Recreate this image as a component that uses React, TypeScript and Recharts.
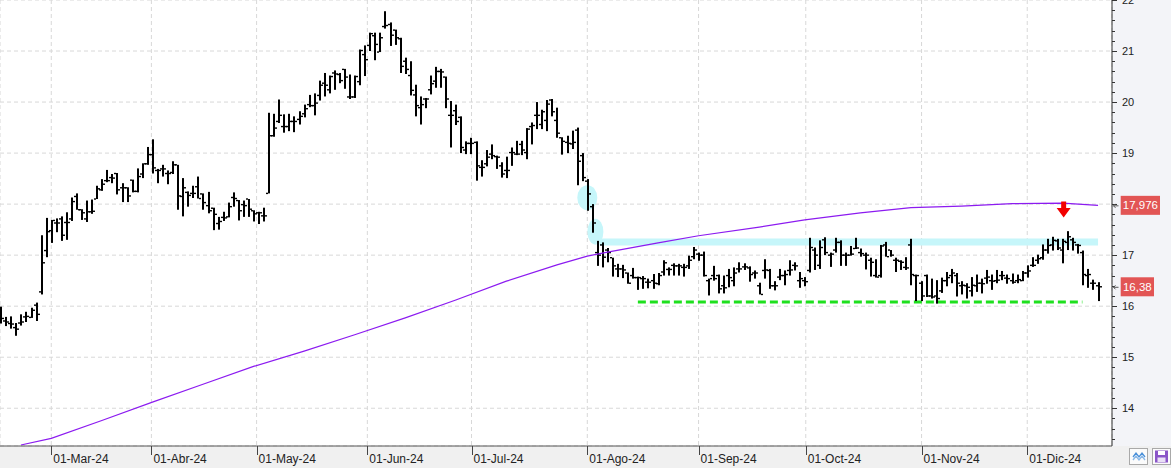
import React from 'react';
import {
  ComposedChart,
  Bar,
  Line,
  XAxis,
  YAxis,
  CartesianGrid,
  ReferenceLine,
  ReferenceDot,
} from 'recharts';

// ---- Daily OHLC bars (Feb-15-2024 .. Dec-20-2024) ----
const opens = [
  15.77, 15.71, 15.66, 15.58, 15.67, 15.79, 15.78, 16.02, 16.28, 17.09,
  17.48, 17.63, 17.71, 17.64, 17.71, 18.15, 17.89, 17.71, 17.85, 18.10,
  18.28, 18.46, 18.52, 18.60, 18.32, 18.32, 18.47, 18.25, 18.59, 18.79,
  18.97, 18.66, 18.69, 18.60, 18.62, 18.77, 18.15, 18.23, 18.21, 18.34,
  18.20, 17.97, 17.92, 17.62, 17.74, 17.75, 18.13, 18.07, 17.99, 18.10,
  17.87, 17.83, 17.77, 18.21, 19.34, 19.62, 19.52, 19.52, 19.62, 19.66,
  19.77, 19.95, 19.93, 20.13, 20.37, 20.24, 20.57, 20.54, 20.64, 20.10,
  20.10, 20.40, 20.93, 21.11, 21.30, 20.98, 21.48, 21.52, 21.41, 21.24,
  20.80, 20.52, 20.14, 19.89, 20.06, 20.24, 20.41, 20.60, 20.49, 19.74,
  19.83, 19.70, 19.06, 19.19, 19.21, 18.72, 18.79, 18.98, 18.93, 18.75,
  18.66, 19.01, 18.98, 19.17, 19.01, 19.52, 19.74, 19.56, 19.64, 20.04,
  19.64, 19.30, 19.21, 19.18, 19.45, 18.95, 18.45, 17.95, 17.05, 17.20,
  17.10, 16.95, 16.73, 16.73, 16.65, 16.60, 16.56, 16.54, 16.47, 16.50,
  16.44, 16.67, 16.72, 16.80, 16.79, 16.76, 16.79, 16.97, 17.02, 17.00,
  16.50, 16.60, 16.60, 16.40, 16.60, 16.50, 16.73, 16.77, 16.75, 16.65,
  16.40, 16.70, 16.70, 16.40, 16.57, 16.60, 16.70, 16.80, 16.50, 16.50,
  16.70, 17.10, 16.80, 17.30, 17.00, 17.10, 17.25, 17.00, 17.00, 17.13,
  17.05, 17.00, 16.90, 16.60, 16.60, 17.20, 17.10, 16.90, 16.88, 16.76,
  17.20, 16.60, 16.45, 16.60, 16.20, 16.20, 16.30, 16.50, 16.60, 16.60,
  16.40, 16.40, 16.30, 16.40, 16.45, 16.55, 16.50, 16.50, 16.60, 16.55,
  16.50, 16.50, 16.50, 16.65, 16.80, 16.90, 16.95, 17.10, 17.20, 17.28,
  17.10, 17.25, 17.30, 17.20, 17.05, 16.60, 16.45, 16.40,
];
const highs = [
  15.99, 15.79, 15.80, 15.67, 15.84, 15.89, 15.97, 16.07, 17.39, 17.73,
  17.69, 17.72, 17.76, 17.84, 18.13, 18.21, 17.90, 18.07, 18.09, 18.36,
  18.49, 18.67, 18.59, 18.61, 18.41, 18.33, 18.48, 18.70, 18.80, 19.12,
  19.27, 18.69, 18.77, 18.66, 18.84, 18.77, 18.51, 18.25, 18.36, 18.54,
  18.21, 18.24, 17.93, 17.75, 17.85, 18.03, 18.23, 18.08, 18.07, 18.10,
  17.88, 17.85, 17.93, 19.79, 19.77, 20.05, 19.76, 19.77, 19.72, 19.82,
  19.95, 20.14, 20.17, 20.42, 20.57, 20.52, 20.62, 20.57, 20.65, 20.54,
  20.52, 21.03, 21.11, 21.36, 21.36, 21.36, 21.78, 21.56, 21.42, 21.26,
  20.87, 20.80, 20.34, 20.11, 20.08, 20.52, 20.69, 20.65, 20.50, 20.02,
  19.95, 19.72, 19.23, 19.30, 19.23, 18.86, 19.06, 19.17, 18.95, 18.82,
  18.93, 19.11, 19.24, 19.24, 19.49, 19.60, 20.00, 19.85, 20.04, 20.06,
  19.89, 19.31, 19.34, 19.44, 19.50, 19.00, 18.49, 18.00, 17.28, 17.25,
  17.14, 16.95, 16.83, 16.81, 16.66, 16.75, 16.58, 16.59, 16.54, 16.63,
  16.65, 16.90, 16.76, 16.84, 16.83, 16.83, 16.99, 17.16, 17.05, 17.07,
  16.54, 16.79, 16.62, 16.60, 16.73, 16.76, 16.86, 16.84, 16.78, 16.70,
  16.46, 16.92, 16.73, 16.49, 16.73, 16.70, 16.90, 16.86, 16.67, 16.57,
  17.34, 17.15, 17.29, 17.35, 17.05, 17.34, 17.29, 17.05, 17.18, 17.34,
  17.13, 17.05, 16.95, 16.92, 17.20, 17.26, 17.10, 16.95, 16.90, 16.96,
  17.32, 16.62, 16.49, 16.62, 16.54, 16.51, 16.56, 16.67, 16.73, 16.65,
  16.49, 16.45, 16.57, 16.62, 16.54, 16.71, 16.62, 16.71, 16.69, 16.62,
  16.64, 16.62, 16.69, 16.80, 16.96, 17.01, 17.21, 17.32, 17.36, 17.32,
  17.32, 17.47, 17.34, 17.22, 17.09, 16.73, 16.52, 16.47,
];
const lows = [
  15.66, 15.61, 15.56, 15.42, 15.62, 15.69, 15.77, 15.71, 16.23, 16.96,
  17.24, 17.45, 17.28, 17.30, 17.67, 17.89, 17.69, 17.65, 17.81, 18.10,
  18.26, 18.43, 18.41, 18.19, 18.04, 18.04, 18.23, 18.23, 18.51, 18.77,
  18.60, 18.41, 18.54, 18.39, 18.59, 17.89, 17.76, 17.95, 18.12, 18.11,
  17.89, 17.82, 17.49, 17.50, 17.67, 17.74, 17.95, 17.68, 17.75, 17.75,
  17.66, 17.61, 17.66, 18.21, 19.32, 19.59, 19.40, 19.43, 19.41, 19.56,
  19.70, 19.90, 19.74, 20.03, 20.11, 20.17, 20.24, 20.37, 20.26, 20.06,
  20.08, 20.33, 20.51, 21.00, 20.82, 20.98, 21.44, 21.10, 21.12, 20.57,
  20.55, 20.13, 19.72, 19.56, 19.88, 20.15, 20.28, 20.28, 19.88, 19.11,
  19.55, 19.00, 18.98, 18.98, 18.46, 18.54, 18.74, 18.88, 18.69, 18.52,
  18.51, 18.75, 18.96, 18.96, 18.88, 19.17, 19.47, 19.47, 19.43, 19.72,
  19.30, 18.97, 19.00, 19.08, 18.37, 18.45, 17.87, 17.44, 16.79, 16.76,
  16.86, 16.58, 16.57, 16.55, 16.44, 16.54, 16.32, 16.34, 16.35, 16.34,
  16.41, 16.60, 16.60, 16.60, 16.60, 16.58, 16.73, 16.92, 16.89, 16.58,
  16.21, 16.50, 16.25, 16.25, 16.37, 16.39, 16.66, 16.71, 16.48, 16.54,
  16.23, 16.54, 16.34, 16.31, 16.51, 16.41, 16.60, 16.70, 16.36, 16.39,
  16.66, 16.71, 16.73, 17.00, 16.77, 17.05, 16.79, 16.79, 16.99, 17.12,
  16.97, 16.72, 16.58, 16.56, 16.56, 16.97, 16.97, 16.67, 16.71, 16.71,
  16.41, 16.10, 16.10, 16.18, 16.15, 16.05, 16.26, 16.39, 16.45, 16.19,
  16.23, 16.15, 16.19, 16.28, 16.25, 16.44, 16.32, 16.45, 16.51, 16.44,
  16.44, 16.45, 16.49, 16.56, 16.77, 16.83, 16.91, 17.03, 17.09, 17.10,
  16.84, 17.10, 17.09, 17.03, 16.41, 16.36, 16.32, 16.10,
];
const closes = [
  15.76, 15.69, 15.65, 15.55, 15.69, 15.80, 15.92, 15.84, 16.85, 17.46,
  17.68, 17.63, 17.39, 17.64, 18.05, 17.89, 17.83, 17.85, 17.86, 18.30,
  18.39, 18.46, 18.51, 18.28, 18.32, 18.16, 18.25, 18.54, 18.79, 18.97,
  18.71, 18.66, 18.69, 18.60, 18.77, 18.16, 18.32, 18.17, 18.21, 18.11,
  18.03, 17.87, 17.80, 17.66, 17.73, 17.95, 18.11, 17.87, 17.97, 17.90,
  17.81, 17.83, 17.77, 19.34, 19.49, 19.74, 19.52, 19.62, 19.62, 19.72,
  19.87, 19.93, 19.98, 20.33, 20.33, 20.50, 20.55, 20.42, 20.49, 20.10,
  20.50, 21.01, 20.83, 21.34, 21.13, 21.26, 21.50, 21.31, 21.26, 20.70,
  20.64, 20.23, 19.93, 19.95, 20.06, 20.36, 20.60, 20.59, 20.06, 19.74,
  19.62, 19.11, 19.19, 19.19, 18.75, 18.72, 18.92, 18.95, 18.92, 18.59,
  18.66, 19.01, 18.98, 19.06, 19.47, 19.54, 19.74, 19.81, 19.96, 19.81,
  19.39, 19.23, 19.19, 19.21, 18.84, 18.52, 18.20, 17.63, 17.00, 16.96,
  17.05, 16.79, 16.73, 16.71, 16.45, 16.56, 16.56, 16.54, 16.47, 16.45,
  16.60, 16.85, 16.72, 16.79, 16.79, 16.76, 16.90, 17.10, 17.00, 16.60,
  16.54, 16.54, 16.34, 16.36, 16.56, 16.65, 16.73, 16.77, 16.62, 16.65,
  16.23, 16.71, 16.40, 16.40, 16.60, 16.62, 16.71, 16.79, 16.54, 16.48,
  17.15, 17.00, 17.15, 17.05, 17.02, 17.25, 17.00, 17.00, 17.02, 17.14,
  17.03, 17.00, 16.86, 16.57, 17.18, 16.97, 17.00, 16.90, 16.86, 16.75,
  16.62, 16.60, 16.20, 16.20, 16.18, 16.15, 16.50, 16.56, 16.65, 16.45,
  16.41, 16.37, 16.41, 16.45, 16.44, 16.57, 16.49, 16.51, 16.60, 16.54,
  16.47, 16.52, 16.65, 16.69, 16.80, 16.93, 17.10, 17.19, 17.29, 17.14,
  17.27, 17.36, 17.25, 17.19, 16.62, 16.62, 16.45, 16.38,
];

// ---- Moving average (purple) ----
const maIndex = [4, 10, 20, 30, 40, 50, 60, 70, 80, 90, 100, 110, 116, 120, 130, 138, 150, 159, 170, 180, 190, 200, 210, 217];
const maValue = [13.28, 13.41, 13.76, 14.12, 14.47, 14.82, 15.12, 15.44, 15.77, 16.12, 16.49, 16.81, 16.98, 17.06, 17.24, 17.38, 17.55, 17.69, 17.83, 17.93, 17.96, 18.01, 18.02, 17.976];

// ---- Axis ticks ----
const monthTicks = [10, 29.8, 50.6, 72.5, 93.1, 116, 138, 159.2, 182.1, 203];
const monthLabels = ['01-Mar-24', '01-Abr-24', '01-May-24', '01-Jun-24', '01-Jul-24', '01-Ago-24', '01-Sep-24', '01-Oct-24', '01-Nov-24', '01-Dic-24'];
const priceTicks = [14, 15, 16, 17, 18, 19, 20, 21, 22];

// ---- Annotations ----
const lastClose = 16.38;
const lastMa = 17.976;
const resistance = { from: 118.4, to: 217, value: 17.26 };
const support = { from: 126, to: 213.9, value: 16.08 };
const circles = [
  { i: 116, v: 18.126, rx: 10, ry: 12.5 },
  { i: 117.6, v: 17.46, rx: 8, ry: 13 },
];
const arrowMark = { i: 210.2, v: 17.895 };

// ---- Layout ----
const W = 1171;
const H = 468;
const AXIS_W = 59;
const AXIS_H = 22;
const PLOT_H = H - AXIS_H;
const X_MIN = -0.14;
const X_MAX = 219.76;
const Y_MIN = 13.26;
const Y_MAX = 22;
const PPU = PLOT_H / (Y_MAX - Y_MIN);
const FONT = '"Liberation Sans", Arial, sans-serif';

const data = opens.map((o, i) => {
  const k = maIndex.indexOf(i);
  return { i, o, h: highs[i], l: lows[i], c: closes[i], ma: k >= 0 ? maValue[k] : null };
});

const fmt = (v: number) => String(v).replace('.', ',');

function OhlcShape(props: any) {
  const { x, y, width, height, payload } = props;
  if (x == null || y == null || !payload) return null;
  const top = Math.min(y, y + height);
  const hh = Math.abs(height);
  const cx = x + width / 2;
  const left = Math.round(cx) - 1;
  const span = payload.h - payload.l || 1;
  const yo = top + ((payload.h - payload.o) / span) * hh;
  const yc = top + ((payload.h - payload.c) / span) * hh;
  return (
    <g fill="#000">
      <rect x={left} y={top} width={2} height={Math.max(hh, 1)} />
      <rect x={left - 2} y={yo - 0.7} width={2} height={1.4} />
      <rect x={left + 2} y={yc - 0.7} width={2} height={1.4} />
    </g>
  );
}

function YTick(props: any) {
  const { x, y, payload } = props;
  const v = payload.value;
  const yy = Math.round(y) + 0.5;
  const minors: number[] = [];
  for (let k = 1; k < 5; k++) minors.push(y - k * 0.2 * PPU);
  if (v === priceTicks[0]) for (let k = 1; k < 5; k++) minors.push(y + k * 0.2 * PPU);
  const hidden = Math.abs(v - lastMa) < 0.15;
  return (
    <g>
      <line x1={x} x2={x + 5} y1={yy} y2={yy} stroke="#333" />
      {minors
        .filter((m) => m > 0 && m < PLOT_H)
        .map((m, k) => (
          <line key={k} x1={x} x2={x + 3} y1={Math.round(m) + 0.5} y2={Math.round(m) + 0.5} stroke="#333" />
        ))}
      {!hidden && (
        <text x={x + 10} y={y} dy="0.36em" fontSize={11} fontFamily={FONT} fill="#222">
          {v}
        </text>
      )}
    </g>
  );
}

function XTick(props: any) {
  const { x, y, payload } = props;
  const idx = monthTicks.indexOf(payload.value);
  const xx = Math.round(x) + 0.5;
  return (
    <g>
      <line x1={xx} x2={xx} y1={y} y2={y + 9} stroke="#444" />
      <text x={x + 2} y={y + 16.5} fontSize={12} fontFamily={FONT} fill="#222">
        {monthLabels[idx]}
      </text>
    </g>
  );
}

function ValueBox(props: any) {
  const { cx, cy, text, w } = props;
  const bx = cx + 8.7;
  return (
    <g>
      <path
        d={`M${cx + 6.5} ${cy + 0.5} H${cx + 1.5} M${cx + 3.5} ${cy - 1.5} L${cx + 1.5} ${cy + 0.5} L${cx + 3.5} ${cy + 2.5}`}
        stroke="#555"
        strokeWidth={1}
        fill="none"
      />
      <rect x={bx} y={cy - 9.5} width={w} height={19} fill="#e25555" />
      <text x={bx + w / 2} y={cy} dy="0.36em" textAnchor="middle" fontSize={11.5} fontFamily={FONT} fill="#fff">
        {text}
      </text>
    </g>
  );
}

function DownArrow(props: any) {
  const { cx, cy } = props;
  const d = `M${cx - 2.5} ${cy - 8} L${cx + 2.5} ${cy - 8} L${cx + 2.5} ${cy - 1.5} L${cx + 7} ${cy - 1.5} L${cx} ${cy + 8} L${cx - 7} ${cy - 1.5} L${cx - 2.5} ${cy - 1.5} Z`;
  return <path d={d} fill="#f20000" />;
}

function Icons() {
  return (
    <>
      <div style={{ position: 'absolute', left: 1129, top: 448, width: 19, height: 17 }}>
        <svg width={19} height={17}>
          <rect x={0.5} y={0.5} width={18} height={16} fill="#fbfbfb" stroke="#a9a9a9" />
          <polyline points="4,9 7,5 10,9 13,5 16,9" fill="none" stroke="#4a90d9" strokeWidth={1.3} />
          <polyline points="4,12 7,8 10,12 13,8 16,12" fill="none" stroke="#8ab8e8" strokeWidth={1.3} />
        </svg>
      </div>
      <div style={{ position: 'absolute', left: 1152, top: 448, width: 19, height: 17 }}>
        <svg width={19} height={17}>
          <rect x={0.5} y={0.5} width={18} height={16} fill="#fbfbfb" stroke="#a9a9a9" />
          <rect x={3} y={2.5} width={13} height={12} fill="#8a55c8" />
          <rect x={6} y={3} width={7} height={4} fill="#ffffff" />
          <rect x={5.5} y={9.5} width={8} height={4.5} fill="#e9e0f5" />
        </svg>
      </div>
    </>
  );
}

export default function App() {
  return (
    <div style={{ position: 'absolute', left: 0, top: 0, width: W, height: H, background: '#ffffff', overflow: 'hidden' }}>
      <div style={{ position: 'absolute', left: W - AXIS_W, top: 0, width: AXIS_W, height: PLOT_H, background: '#f3f4f8' }} />
      <div style={{ position: 'absolute', left: 0, top: PLOT_H, width: W, height: AXIS_H, background: '#f0f0f0' }} />
      <div style={{ position: 'absolute', left: 0, top: 0 }}>
        <ComposedChart width={W} height={H} data={data} margin={{ top: 0, right: 0, bottom: 0, left: 0 }}>
          <CartesianGrid stroke="#d8d8d8" strokeDasharray="4 3" />
          <XAxis
            type="number"
            dataKey="i"
            domain={[X_MIN, X_MAX]}
            allowDataOverflow
            ticks={monthTicks}
            interval={0}
            tick={<XTick />}
            tickLine={false}
            tickSize={0}
            tickMargin={0}
            height={AXIS_H}
            axisLine={{ stroke: '#555' }}
          />
          <YAxis
            orientation="right"
            type="number"
            domain={[Y_MIN, Y_MAX]}
            allowDataOverflow
            ticks={priceTicks}
            interval={0}
            tick={<YTick />}
            tickLine={false}
            tickSize={0}
            tickMargin={0}
            width={AXIS_W}
            axisLine={{ stroke: '#333' }}
          />
          <ReferenceLine
            segment={[
              { x: resistance.from, y: resistance.value },
              { x: resistance.to, y: resistance.value },
            ]}
            stroke="#c6f6fa"
            strokeWidth={7}
            zIndex={50}
          />
          {circles.map((c, k) => (
            <ReferenceDot
              key={k}
              x={c.i}
              y={c.v}
              r={10}
              zIndex={50}
              ifOverflow="visible"
              shape={(p: any) => <ellipse cx={p.cx} cy={p.cy} rx={c.rx} ry={c.ry} fill="#c6f6fa" />}
            />
          ))}
          <ReferenceLine
            segment={[
              { x: support.from, y: support.value },
              { x: support.to, y: support.value },
            ]}
            stroke="#1ee01e"
            strokeWidth={3}
            strokeDasharray="8 4"
            zIndex={60}
          />
          <Line
            type="linear"
            dataKey="ma"
            stroke="#8c1bf0"
            strokeWidth={1.2}
            dot={false}
            activeDot={false}
            connectNulls
            isAnimationActive={false}
          />
          <Bar
            dataKey={(d: any) => [d.l, d.h]}
            barSize={2}
            shape={(p: any) => <OhlcShape {...p} />}
            isAnimationActive={false}
          />
          <ReferenceDot
            x={arrowMark.i}
            y={arrowMark.v}
            r={8}
            zIndex={1500}
            ifOverflow="visible"
            shape={(p: any) => <DownArrow {...p} />}
          />
          <ReferenceDot
            x={X_MAX}
            y={lastMa}
            r={1}
            zIndex={2500}
            ifOverflow="visible"
            shape={(p: any) => <ValueBox {...p} text={fmt(lastMa)} w={39.3} />}
          />
          <ReferenceDot
            x={X_MAX}
            y={lastClose}
            r={1}
            zIndex={2500}
            ifOverflow="visible"
            shape={(p: any) => <ValueBox {...p} text={fmt(lastClose)} w={33.3} />}
          />
        </ComposedChart>
      </div>
      <Icons />
    </div>
  );
}
